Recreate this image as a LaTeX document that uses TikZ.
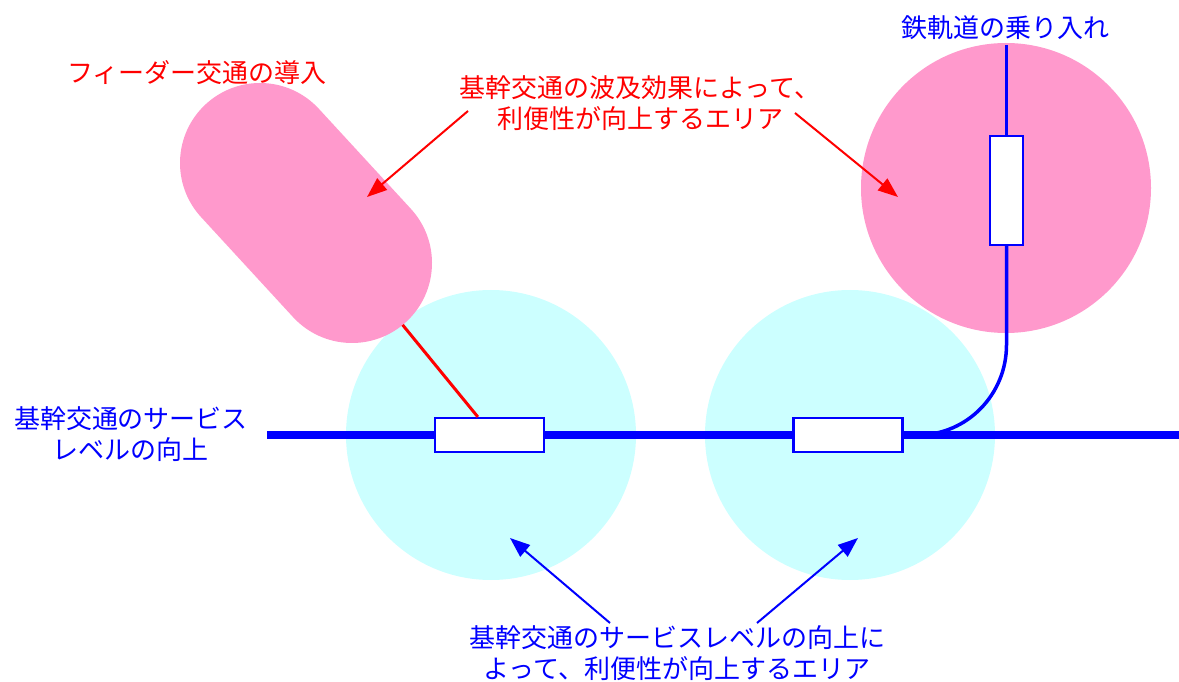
\documentclass[tikz,border=0pt]{standalone}
\usepackage{fontspec}
\newfontfamily\jp{Noto Sans CJK JP}
\usetikzlibrary{arrows.meta,calc}
\definecolor{areacyan}{RGB}{204,255,255}
\definecolor{areapink}{RGB}{255,153,204}
\tikzset{
  cyanarea/.style={circle, fill=areacyan, minimum size=290pt, inner sep=0pt},
  pinkarea/.style={circle, fill=areapink, minimum size=290pt, inner sep=0pt},
  stationbox/.style={draw=blue, fill=white, line width=2.2pt, inner sep=0pt},
  redlabel/.style={text=red, font=\jp\fontsize{26}{31}\selectfont, align=center},
  bluelabel/.style={text=blue, font=\jp\fontsize{26}{31}\selectfont, align=center},
  redarrow/.style={draw=red, line width=2pt, -{Triangle[length=20pt,width=15pt]}},
  bluearrow/.style={draw=blue, line width=2pt, -{Triangle[length=20pt,width=15pt]}},
}
\begin{document}
\begin{tikzpicture}[x=1pt,y=1pt]
\useasboundingbox (0,0) rectangle (1179,681);
% service areas
\node[cyanarea] (c1) at (491,246) {};
\node[cyanarea] (c2) at (850,246) {};
% feeder capsule
\coordinate (pillA) at (260,518);
\coordinate (pillB) at (352,418);
\draw[areapink, line width=160pt, line cap=round] (pillA) -- (pillB);
% railway area
\node[pinkarea] (p1) at (1006,493) {};
% stations
\node[stationbox, minimum width=109pt, minimum height=34pt] (b1) at (489.5,246) {};
\node[stationbox, minimum width=109pt, minimum height=34pt] (b2) at (848,246) {};
\node[stationbox, minimum width=33pt, minimum height=109pt] (vb) at (1006.5,490.5) {};
% trunk line
\coordinate (mainL) at (267,246);
\coordinate (mainR) at (1179,246);
\draw[blue, line width=8pt] (mainL) -- (b1.west);
\draw[blue, line width=8pt] (b1.east) -- (b2.west);
\draw[blue, line width=8pt] (b2.east) -- (mainR);
% railway line
\coordinate (railTop) at (1006.5,636);
\coordinate (railBend) at (1006.5,336);
\coordinate (railJoin) at (918,246);
\draw[blue, line width=3.5pt] (railTop) -- (vb.north);
\draw[blue, line width=3.5pt] (vb.south) -- (railBend) to[out=-90,in=0] (railJoin);
% feeder connection
\coordinate (b1top) at ($(b1.north west)!0.395!(b1.north east)$);
\coordinate (pillEdge) at ($(pillB)!80pt!(b1top)$);
\draw[red, line width=3pt] (pillEdge) -- (b1top);
% labels
\node[redlabel] (t1) at (197,608) {フィーダー交通の導入};
\node[redlabel] (t2) at (640,578) {基幹交通の波及効果によって、\\利便性が向上するエリア};
\node[bluelabel] (t3) at (1005,653) {鉄軌道の乗り入れ};
\node[bluelabel] (t4) at (131,247) {基幹交通のサービス\\レベルの向上};
\node[bluelabel] (t5) at (677,28) {基幹交通のサービスレベルの向上に\\よって、利便性が向上するエリア};
% arrows
\coordinate (r1s) at (468,570);
\coordinate (r1e) at (367,484);
\coordinate (r2s) at (795,568);
\coordinate (r2e) at (898,484);
\coordinate (u1s) at (610,58);
\coordinate (u1e) at (510,143);
\coordinate (u2s) at (757,58);
\coordinate (u2e) at (858,143);
\draw[redarrow] (r1s) -- (r1e);
\draw[redarrow] (r2s) -- (r2e);
\draw[bluearrow] (u1s) -- (u1e);
\draw[bluearrow] (u2s) -- (u2e);
\end{tikzpicture}
\end{document}
